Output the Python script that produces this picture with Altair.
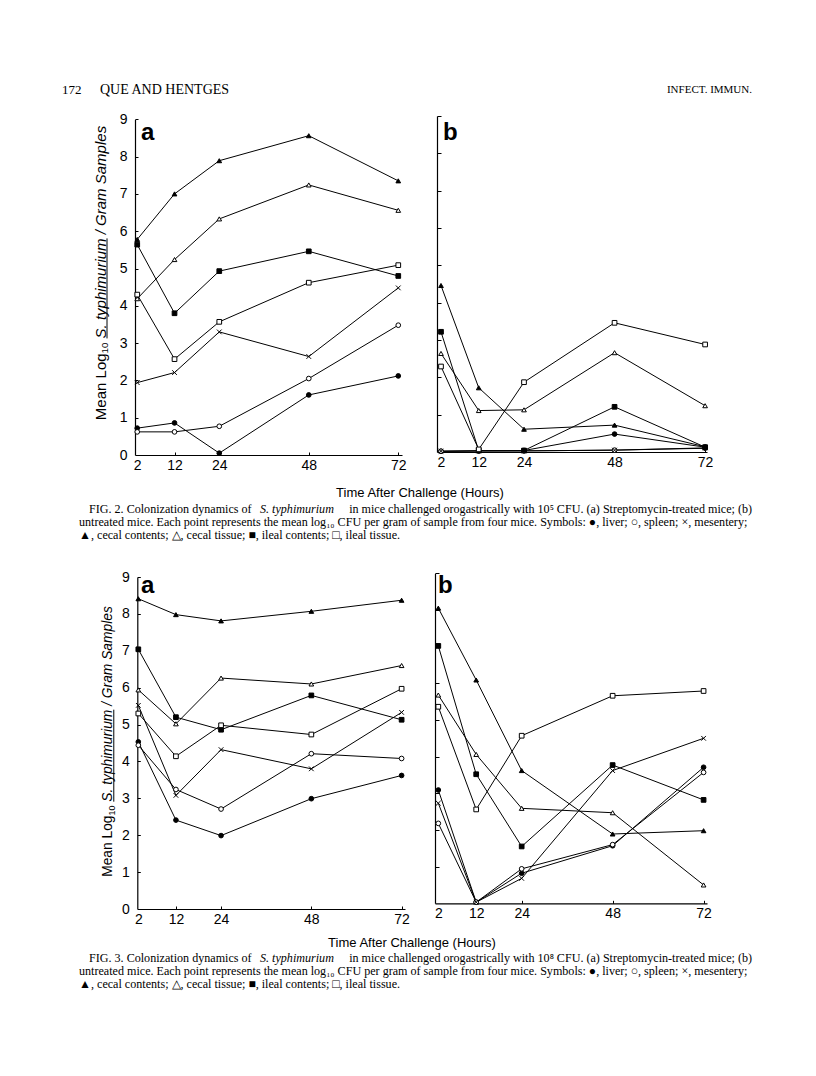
import altair as alt
import pandas as pd

# ---------------- data ----------------
HOURS = [2, 12, 24, 48, 72]
SERIES = ["liver", "spleen", "mesentery", "cecal contents",
          "cecal tissue", "ileal contents", "ileal tissue"]

fig2a = {
    "liver": [0.72, 0.86, 0.05, 1.61, 2.12],
    "spleen": [0.62, 0.62, 0.77, 2.05, 3.48],
    "mesentery": [1.94, 2.21, 3.30, 2.64, 4.48],
    "cecal contents": [5.78, 7.00, 7.89, 8.56, 7.35],
    "cecal tissue": [4.19, 5.24, 6.33, 7.24, 6.56],
    "ileal contents": [5.64, 3.80, 4.93, 5.46, 4.80],
    "ileal tissue": [4.30, 2.57, 3.57, 4.62, 5.09],
}
fig2b = {
    "liver": [0.02, 0.03, 0.04, 0.48, 0.13],
    "spleen": [0.02, 0.03, 0.03, 0.05, 0.10],
    "mesentery": [0.02, 0.03, 0.03, 0.05, 0.11],
    "cecal contents": [4.46, 1.72, 0.61, 0.72, 0.14],
    "cecal tissue": [2.64, 1.11, 1.13, 2.66, 1.24],
    "ileal contents": [3.22, 0.04, 0.04, 1.21, 0.13],
    "ileal tissue": [2.29, 0.07, 1.87, 3.46, 2.88],
}
fig3a = {
    "liver": [4.53, 2.41, 1.99, 2.99, 3.62],
    "spleen": [4.44, 3.24, 2.71, 4.21, 4.08],
    "mesentery": [5.52, 3.08, 4.32, 3.80, 5.33],
    "cecal contents": [8.41, 7.98, 7.81, 8.07, 8.37],
    "cecal tissue": [5.94, 5.02, 6.26, 6.10, 6.60],
    "ileal contents": [7.04, 5.20, 4.86, 5.79, 5.13],
    "ileal tissue": [5.30, 4.14, 4.98, 4.73, 5.97],
}
fig3b = {
    "liver": [3.09, 0.03, 0.82, 1.57, 3.71],
    "spleen": [2.18, 0.03, 0.94, 1.60, 3.57],
    "mesentery": [2.73, 0.03, 0.68, 3.62, 4.50],
    "cecal contents": [8.05, 6.09, 3.62, 1.89, 1.98],
    "cecal tissue": [5.68, 4.06, 2.59, 2.47, 0.50],
    "ileal contents": [7.02, 3.52, 1.55, 3.77, 2.82],
    "ileal tissue": [5.36, 2.56, 4.57, 5.66, 5.79],
}
Y_TICKS = [0, 1, 2, 3, 4, 5, 6, 7, 8, 9]

HEADER_LEFT = ["172", "QUE AND HENTGES"]
HEADER_RIGHT = "INFECT. IMMUN."
X_TITLE = "Time After Challenge (Hours)"
Y_TITLE = ["Mean Log", "10", " S. typhimurium", " / Gram Samples"]
CAP2 = ["FIG. 2. Colonization dynamics of", "S. typhimurium",
        "in mice challenged orogastrically with 10\u2075 CFU. (a) Streptomycin-treated mice; (b)",
        "untreated mice. Each point represents the mean log\u2081\u2080 CFU per gram of sample from four mice. Symbols: \u25cf, liver; \u25cb, spleen; \u00d7, mesentery;",
        "\u25b2, cecal contents; \u25b3, cecal tissue; \u25a0, ileal contents; \u25a1, ileal tissue."]
CAP3 = ["FIG. 3. Colonization dynamics of", "S. typhimurium",
        "in mice challenged orogastrically with 10\u2078 CFU. (a) Streptomycin-treated mice; (b)",
        CAP2[3], CAP2[4]]

# ---------------- styling ----------------
W, H = 800, 1060
M = 8  # page margin
SANS = "Liberation Sans"
SERIF = "Liberation Serif"

shape_scale = alt.Scale(domain=SERIES, range=[
    "circle", "circle", "M-1,-1L1,1M-1,1L1,-1", "triangle-up",
    "triangle-up", "square", "square"])
fill_scale = alt.Scale(domain=SERIES, range=[
    "black", "white", "white", "black", "white", "black", "white"])

ARIAL = {"M": .833, "e": .556, "a": .556, "n": .556, " ": .278, "L": .556,
         "o": .556, "g": .556, "1": .556, "0": .556, "S": .667, ".": .278,
         "t": .278, "y": .5, "p": .556, "h": .556, "i": .222, "m": .833,
         "u": .556, "r": .333, "/": .278, "G": .778, "l": .222, "s": .5}


def wa(s, size):
    return sum(ARIAL.get(c, .556) for c in s) * size


def one():
    return pd.DataFrame({"k": [0]})


def txt(s, x, y, size, font=SANS, style="normal", weight="normal",
        align="left", baseline="middle", angle=0):
    return alt.Chart(pd.DataFrame({"t": [s]})).mark_text(
        align=align, baseline=baseline, font=font, fontSize=size,
        fontStyle=style, fontWeight=weight, angle=angle, color="black"
    ).encode(text="t:N", x=alt.value(x - M), y=alt.value(y - M))


def panel(vals, xdom, xr, yr, ylabels):
    rows = [{"hour": h, "value": v, "series": s}
            for s in SERIES for h, v in zip(HOURS, vals[s])]
    df = pd.DataFrame(rows)
    xg = [xr[0] - M, xr[1] - M]
    yg = [yr[0] - M, yr[1] - M]
    xs = alt.Scale(domain=xdom, range=xg, nice=False, zero=False)
    ys = alt.Scale(domain=[0, 9], range=yg, nice=False, zero=False)
    x_main = alt.X("hour:Q", scale=xs, axis=alt.Axis(
        orient="bottom", offset=yg[0] - H, values=HOURS, grid=False,
        ticks=False, tickSize=0, domainColor="black", domainWidth=1.2,
        labelFont=SANS, labelFontSize=14, labelColor="black",
        labelPadding=3, labelFlush=False, title=None))
    y_main = alt.Y("value:Q", scale=ys, axis=alt.Axis(
        orient="left", offset=-xg[0], values=Y_TICKS, grid=False,
        ticks=False, tickSize=0, labels=ylabels, domainColor="black",
        domainWidth=1.2, labelFont=SANS, labelFontSize=14,
        labelColor="black", labelPadding=8, labelFlush=False, title=None))
    x_tick = alt.X("hour:Q", scale=xs, axis=alt.Axis(
        orient="top", offset=-yg[0], values=HOURS[1:], grid=False,
        labels=False, domain=False, ticks=True, tickSize=3,
        tickColor="black", title=None))
    y_tick = alt.Y("value:Q", scale=ys, axis=alt.Axis(
        orient="right", offset=xg[0] - W, values=Y_TICKS[1:], grid=False,
        labels=False, domain=False, ticks=True,
        tickSize=(3 if ylabels else 4), tickColor="black", title=None))
    lines = alt.Chart(df).mark_line(color="black", strokeWidth=1).encode(
        x=x_main, y=y_main, detail="series:N", order="hour:Q")
    pts = alt.Chart(df).mark_point(
        filled=True, stroke="black", strokeWidth=1, size=22, opacity=1
    ).encode(
        x=x_tick, y=y_tick,
        shape=alt.Shape("series:N", scale=shape_scale, legend=None),
        fill=alt.Fill("series:N", scale=fill_scale, legend=None))
    return alt.layer(lines, pts).resolve_axis(x="independent", y="independent")


def ytitle(cx, cy, f):
    fs = 0.65 * f
    parts = [(Y_TITLE[0], f, "normal", 0.0),
             (Y_TITLE[1], fs, "normal", 0.28 * f),
             (Y_TITLE[2], f, "italic", 0.0),
             (Y_TITLE[3], f, "italic", 0.0)]
    total = sum(wa(p[0], p[1]) for p in parts)
    y = cy + total / 2
    out = []
    for s, size, style, dx in parts:
        lead = s[:len(s) - len(s.lstrip())]
        body = s.lstrip()
        y -= wa(lead, size)
        w = wa(body, size)
        out.append(txt(body, cx + dx, y, size, style=style, angle=270))
        if body == Y_TITLE[2].strip():
            out.append(alt.Chart(one()).mark_rule(color="black", strokeWidth=1).encode(
                x=alt.value(cx + 0.42 * f - M), y=alt.value(y - M),
                y2=alt.value(y - w - M)))
        y -= w
    return out


def caption(lines, y0, x_indent, x_ital, step=13):
    size = 12.1
    return [
        txt(lines[0], x_indent, y0, size, font=SERIF),
        txt(lines[1], x_ital, y0, size, font=SERIF, style="italic"),
        txt(lines[2], 752, y0, size, font=SERIF, align="right"),
        txt(lines[3], 79, y0 + step, size, font=SERIF),
        txt(lines[4], 79, y0 + 2 * step, size, font=SERIF),
    ]


layers = [
    panel(fig2a, [1.4, 73.0], [135, 402], [455, 119.3], True),
    panel(fig2b, [0.94, 72.5], [437, 707], [452, 116], False),
    panel(fig3a, [1.73, 72.9], [137.3, 405], [909, 577], True),
    panel(fig3b, [1.13, 72.9], [435, 707], [903.3, 573.3], False),
]

texts = [
    txt(HEADER_LEFT[0], 62, 90, 13, font=SERIF),
    txt(HEADER_LEFT[1], 100, 90, 14, font=SERIF),
    txt(HEADER_RIGHT, 752, 90, 11, font=SERIF, align="right"),
    txt("a", 141, 140, 24, weight="bold", baseline="alphabetic"),
    txt("b", 443, 140, 24, weight="bold", baseline="alphabetic"),
    txt("a", 141, 593, 24, weight="bold", baseline="alphabetic"),
    txt("b", 438, 593, 24, weight="bold", baseline="alphabetic"),
    txt(X_TITLE, 420, 493, 13, align="center"),
    txt(X_TITLE, 412, 943, 13, align="center"),
]
texts += ytitle(100.7, 273, 15)
texts += ytitle(108, 741.5, 13.8)
texts += caption(CAP2, 509, 89, 260)
texts += caption(CAP3, 958, 89, 260)

chart = alt.layer(*layers, *texts).resolve_scale(
    x="independent", y="independent"
).resolve_axis(
    x="independent", y="independent"
).properties(
    width=W, height=H, padding=0,
    autosize=alt.AutoSizeParams(type="none"),
    background="white",
).configure_view(stroke=None)

chart.save("out.html", embed_options={"renderer": "svg", "actions": False})
